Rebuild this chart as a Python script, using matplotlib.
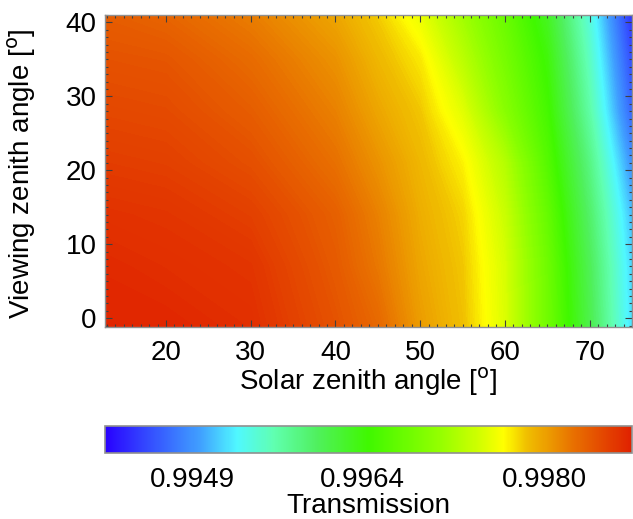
import numpy as np
import matplotlib
matplotlib.use("Agg")
import matplotlib.pyplot as plt
from matplotlib.colors import LinearSegmentedColormap, Normalize
from matplotlib.ticker import MultipleLocator

plt.rcParams['font.family'] = ['Liberation Sans', 'DejaVu Sans']

# Grid of solar zenith angles (columns) and viewing zenith angles (rows)
sza = [12.8, 20, 30, 40, 45, 50, 55, 60, 65, 70, 75]
vza = [-1.2, 7, 14, 21, 28, 35, 41]

# Transmission on that grid, one list per viewing zenith angle
trans_vza_m1 = [0.99873, 0.99873, 0.99868, 0.99845, 0.99831, 0.99803, 0.99785, 0.99747, 0.99682, 0.99608, 0.99519]
trans_vza_07 = [0.99871, 0.99868, 0.99864, 0.99840, 0.99822, 0.99798, 0.99782, 0.99745, 0.99680, 0.99603, 0.99515]
trans_vza_14 = [0.99866, 0.99864, 0.99857, 0.99836, 0.99817, 0.99794, 0.99778, 0.99738, 0.99673, 0.99594, 0.99506]
trans_vza_21 = [0.99859, 0.99857, 0.99847, 0.99826, 0.99808, 0.99789, 0.99768, 0.99726, 0.99661, 0.99582, 0.99487]
trans_vza_28 = [0.99852, 0.99850, 0.99838, 0.99817, 0.99798, 0.99782, 0.99750, 0.99699, 0.99649, 0.99565, 0.99464]
trans_vza_35 = [0.99845, 0.99843, 0.99829, 0.99808, 0.99789, 0.99771, 0.99730, 0.99686, 0.99640, 0.99553, 0.99450]
trans_vza_41 = [0.99838, 0.99833, 0.99819, 0.99798, 0.99780, 0.99754, 0.99715, 0.99676, 0.99628, 0.99542, 0.99436]

cbar_ticks = [0.9949, 0.9964, 0.9980]
cbar_ticklabels = ['0.9949', '0.9964', '0.9980']
t_min, t_max = 0.994125, 0.998775

Z = np.array([trans_vza_m1, trans_vza_07, trans_vza_14, trans_vza_21,
              trans_vza_28, trans_vza_35, trans_vza_41])
X, Y = np.meshgrid(sza, vza)

# Rainbow colour table, blue -> cyan -> green -> yellow -> red
stops = [
    (0.00, '#2800ff'), (0.05, '#3030ff'), (0.18, '#40a0ff'), (0.25, '#50f8ff'),
    (0.32, '#60ffb0'), (0.40, '#50f060'), (0.50, '#40f800'), (0.63, '#90ff00'),
    (0.70, '#c8ff00'), (0.757, '#ffff00'), (0.80, '#f0c000'), (0.89, '#e87000'),
    (1.00, '#e02000'),
]
cmap = LinearSegmentedColormap.from_list('rainbow_idl', stops, N=512)
norm = Normalize(vmin=t_min, vmax=t_max)
levels = np.linspace(t_min, t_max, 301)

W, H = 633, 519
fig = plt.figure(figsize=(W / 100, H / 100), dpi=100)
ax = fig.add_axes([105 / W, (H - 327) / H, (632 - 105) / W, (327 - 15) / H])

cs = ax.contourf(X, Y, Z, levels=levels, cmap=cmap, norm=norm, antialiased=False)
ax.set_xlim(12.8, 75)
ax.set_ylim(-1.2, 41)

ax.xaxis.set_major_locator(MultipleLocator(10))
ax.xaxis.set_minor_locator(MultipleLocator(1))
ax.yaxis.set_major_locator(MultipleLocator(10))
ax.yaxis.set_minor_locator(MultipleLocator(1))
ax.tick_params(which='both', direction='in', top=True, right=True,
               color='#404040', labelsize=20, width=0.8)
ax.tick_params(which='major', length=5)
ax.tick_params(axis='x', which='major', pad=9)
ax.tick_params(axis='y', which='major', pad=6)
ax.tick_params(which='minor', length=2.5)
for s in ax.spines.values():
    s.set_color('#909090')
    s.set_linewidth(1.0)

ax.set_xlabel('Solar zenith angle [$^\\mathrm{o}$]', fontsize=20, labelpad=0)
ax.set_ylabel('Viewing zenith angle [$^\\mathrm{o}$]', fontsize=20)
ax.yaxis.set_label_coords(-0.128, 0.49)

cax = fig.add_axes([105 / W, (H - 453) / H, (632 - 105) / W, (453 - 426) / H])
sm = plt.cm.ScalarMappable(norm=norm, cmap=cmap)
cb = fig.colorbar(sm, cax=cax, orientation='horizontal')
cb.set_ticks(cbar_ticks)
cb.set_ticklabels(cbar_ticklabels)
cax.tick_params(length=0, labelsize=20, pad=10)
cb.outline.set_edgecolor('#909090')
cb.outline.set_linewidth(1.2)
cb.set_label('Transmission', fontsize=20, labelpad=0)

fig.savefig('out.png', dpi=100)
